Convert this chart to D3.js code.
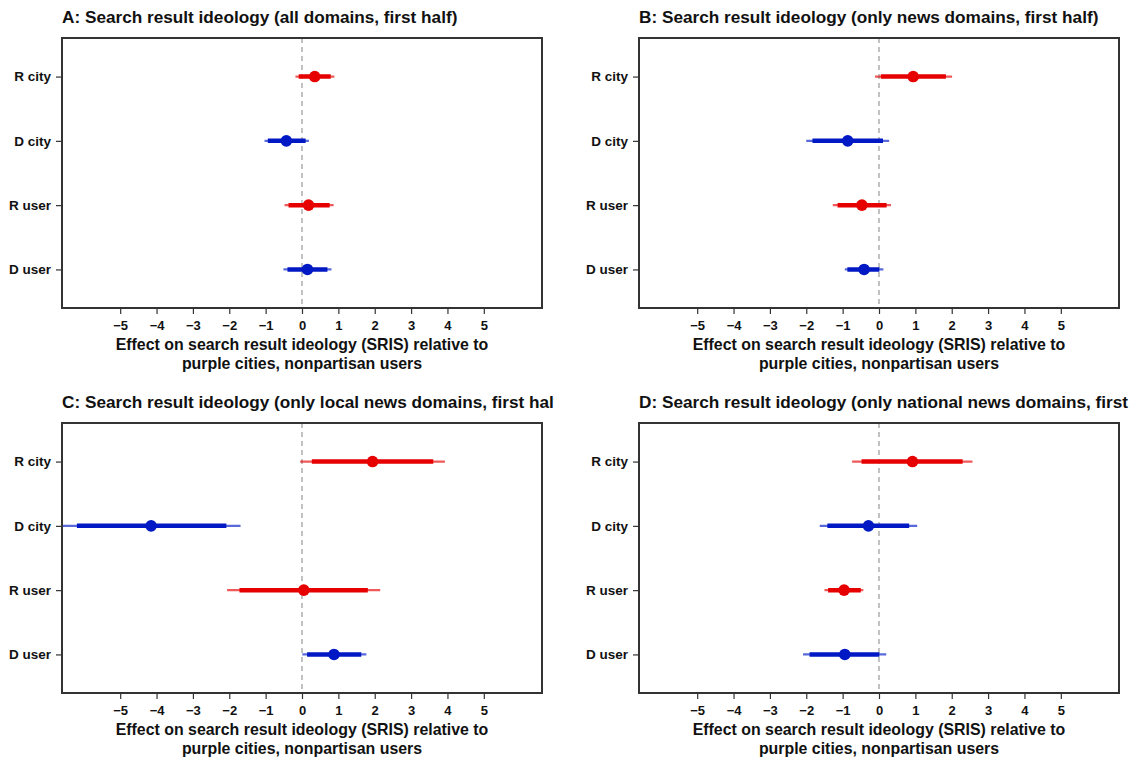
<!DOCTYPE html>
<html>
<head>
<meta charset="utf-8">
<script src="https://cdn.jsdelivr.net/npm/d3@7"></script>
<style>
  body { margin: 0; background: #fff; }
  text { font-family: "Liberation Sans", Arial, sans-serif; font-weight: bold; }
</style>
</head>
<body>
<div id="chart-area"></div>
<script>
// categories, top to bottom
var groups = ["R city", "D city", "R user", "D user"];
var party = ["R", "D", "R", "D"];
var xTicks = [-5, -4, -3, -2, -1, 0, 1, 2, 3, 4, 5];

var titles = [
  "A: Search result ideology (all domains, first half)",
  "B: Search result ideology (only news domains, first half)",
  "C: Search result ideology (only local news domains, first half)",
  "D: Search result ideology (only national news domains, first half)"
];

// estimates, inner (thick) interval, outer (thin) interval per panel
var estA = [0.35, -0.43, 0.18, 0.15];
var loA  = [-0.09, -0.94, -0.37, -0.40];
var hiA  = [0.79, 0.10, 0.76, 0.70];
var lo2A = [-0.18, -1.03, -0.48, -0.51];
var hi2A = [0.89, 0.19, 0.87, 0.81];

var estB = [0.94, -0.86, -0.47, -0.41];
var loB  = [0.05, -1.83, -1.14, -0.87];
var hiB  = [1.84, 0.11, 0.21, 0.01];
var lo2B = [-0.11, -2.00, -1.27, -0.94];
var hi2B = [2.01, 0.28, 0.33, 0.12];

var estC = [1.94, -4.15, 0.05, 0.88];
var loC  = [0.27, -6.19, -1.72, 0.14];
var hiC  = [3.61, -2.08, 1.81, 1.63];
var lo2C = [-0.05, -6.80, -2.06, 0.01];
var hi2C = [3.93, -1.69, 2.15, 1.77];

var estD = [0.92, -0.29, -0.96, -0.94];
var loD  = [-0.48, -1.42, -1.40, -1.91];
var hiD  = [2.30, 0.83, -0.50, 0.01];
var lo2D = [-0.74, -1.63, -1.50, -2.09];
var hi2D = [2.57, 1.05, -0.43, 0.20];

var panelData = [
  [estA, loA, hiA, lo2A, hi2A],
  [estB, loB, hiB, lo2B, hi2B],
  [estC, loC, hiC, lo2C, hi2C],
  [estD, loD, hiD, lo2D, hi2D]
];

var colors = { R: "#e60000", D: "#0019c4" };

//Svg container
var W = 1140, H = 760;
var svg = d3.select("#chart-area").append("svg")
    .attr("width", W)
    .attr("height", H);

// panel boxes (titles are cut at the cell edge, as in the original figure)
var panels = [
  { left: 62, top: 38, cell: [0, 554] },
  { left: 639, top: 38, cell: [570, 1131] },
  { left: 62, top: 423, cell: [0, 554] },
  { left: 639, top: 423, cell: [570, 1131] }
];
var pw = 480, ph = 270;

var x = d3.scaleLinear().domain([-6.6, 6.6]).range([0, pw]);
var y = d3.scalePoint().domain(groups).range([0, ph]).padding(0.6);

panels.forEach(function(p, i) {
  var cellId = "cell" + i, plotId = "plot" + i;
  svg.append("clipPath").attr("id", cellId)
    .append("rect").attr("x", p.cell[0]).attr("y", 0)
    .attr("width", p.cell[1] - p.cell[0]).attr("height", H);

  var cell = svg.append("g").attr("clip-path", "url(#" + cellId + ")");

  cell.append("text")
    .attr("x", p.left)
    .attr("y", p.top - 15)
    .attr("font-size", 17.2)
    .attr("fill", "#111")
    .text(titles[i]);

  var g = cell.append("g")
    .attr("transform", "translate(" + p.left + "," + p.top + ")");

  g.append("clipPath").attr("id", plotId)
    .append("rect").attr("width", pw).attr("height", ph);

  var inner = g.append("g").attr("clip-path", "url(#" + plotId + ")");

  // zero line
  inner.append("line")
    .attr("x1", x(0)).attr("x2", x(0))
    .attr("y1", 0).attr("y2", ph)
    .attr("stroke", "#a8a8a8")
    .attr("stroke-width", 1.4)
    .attr("stroke-dasharray", "5,4");

  var d = panelData[i];
  var rows = groups.map(function(name, k) {
    return { name: name, party: party[k], est: d[0][k], lo: d[1][k], hi: d[2][k], lo2: d[3][k], hi2: d[4][k] };
  });

  // outer interval
  inner.selectAll(".outer").data(rows).enter().append("line")
    .attr("x1", r => x(r.lo2)).attr("x2", r => x(r.hi2))
    .attr("y1", r => y(r.name)).attr("y2", r => y(r.name))
    .attr("stroke", r => colors[r.party])
    .attr("stroke-opacity", 0.65)
    .attr("stroke-width", 2.2);

  // inner interval
  inner.selectAll(".innerl").data(rows).enter().append("line")
    .attr("x1", r => x(r.lo)).attr("x2", r => x(r.hi))
    .attr("y1", r => y(r.name)).attr("y2", r => y(r.name))
    .attr("stroke", r => colors[r.party])
    .attr("stroke-width", 4.5);

  inner.selectAll("circle").data(rows).enter().append("circle")
    .attr("cx", r => x(r.est)).attr("cy", r => y(r.name))
    .attr("r", 5.8)
    .attr("fill", r => colors[r.party]);

  // box
  g.append("rect")
    .attr("width", pw).attr("height", ph)
    .attr("fill", "none")
    .attr("stroke", "#333")
    .attr("stroke-width", 2);

  //Axis
  var xAxis = g.append("g")
    .attr("transform", "translate(0," + (ph + 1) + ")")
    .call(d3.axisBottom(x).tickValues(xTicks).tickSize(5).tickPadding(7)
      .tickFormat(v => v < 0 ? "\u2212" + Math.abs(v) : v));
  xAxis.select(".domain").remove();
  xAxis.selectAll("line").attr("stroke", "#333").attr("stroke-width", 1.2);
  xAxis.selectAll("text").attr("font-size", 13).attr("fill", "#111")
    .attr("font-family", null);

  var yAxis = g.append("g")
    .attr("transform", "translate(-1,0)")
    .call(d3.axisLeft(y).tickSize(5).tickPadding(5));
  yAxis.select(".domain").remove();
  yAxis.selectAll("line").attr("stroke", "#333").attr("stroke-width", 1.2);
  yAxis.selectAll("text").attr("font-size", 13.5).attr("fill", "#111")
    .attr("font-family", null);

  var label = g.append("text")
    .attr("text-anchor", "middle")
    .attr("font-size", 15.9)
    .attr("fill", "#111");
  label.append("tspan").attr("x", pw / 2).attr("y", ph + 42)
    .text("Effect on search result ideology (SRIS) relative to");
  label.append("tspan").attr("x", pw / 2).attr("y", ph + 61)
    .text("purple cities, nonpartisan users");
});
</script>
</body>
</html>
